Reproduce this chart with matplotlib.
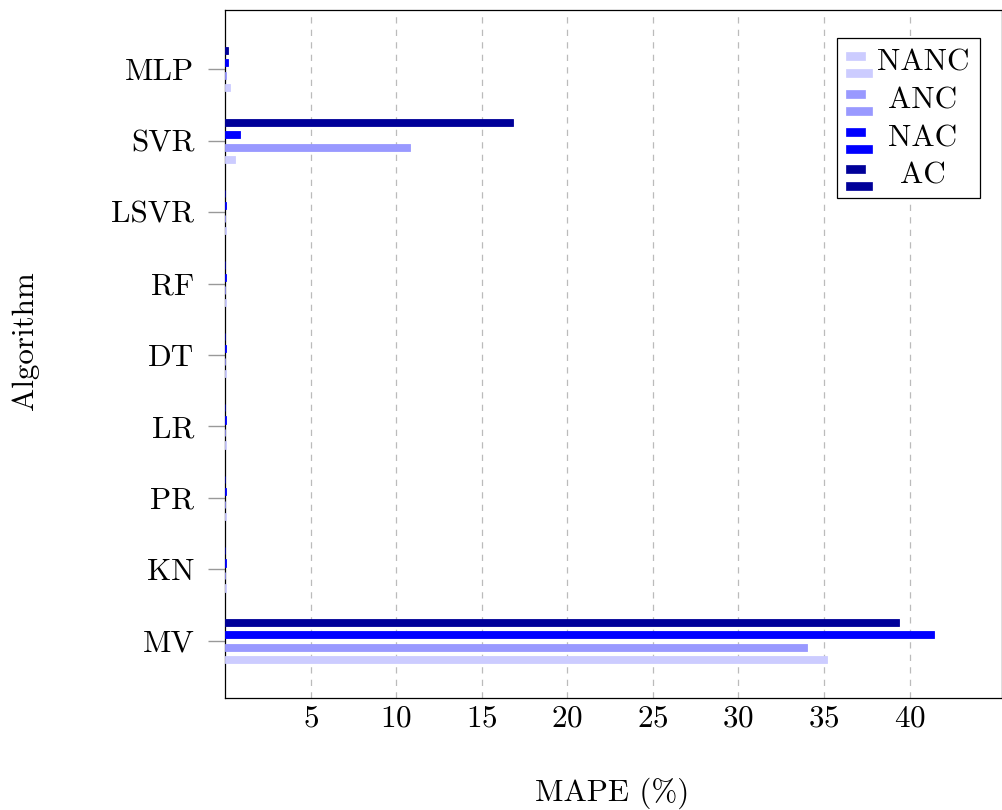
import numpy as np
import matplotlib
matplotlib.use("Agg")
import matplotlib.pyplot as plt
import matplotlib.patches as mpatches

plt.rcParams['font.family'] = 'cmr10'
plt.rcParams['mathtext.fontset'] = 'cm'
plt.rcParams['axes.formatter.use_mathtext'] = True

# algorithms, bottom to top
algorithms = ["MV", "KN", "PR", "LR", "DT", "RF", "LSVR", "SVR", "MLP"]
series = ["NANC", "ANC", "NAC", "AC"]
colors = ["#ccccff", "#9999ff", "#0000ff", "#000099"]

nanc = [35.2, 0.04, 0.04, 0.04, 0.04, 0.04, 0.04, 0.6, 0.3]
anc = [34.0, 0.03, 0.03, 0.03, 0.03, 0.03, 0.03, 10.8, 0.05]
nac = [41.4, 0.05, 0.05, 0.05, 0.05, 0.05, 0.05, 0.88, 0.2]
ac = [39.4, 0.03, 0.03, 0.03, 0.03, 0.03, 0.03, 16.85, 0.15]
values = [nanc, anc, nac, ac]

xticks = [5, 10, 15, 20, 25, 30, 35, 40]

FS = 22.4

fig = plt.figure(figsize=(10.03, 8.10), dpi=100)
ax = fig.add_axes([0.2243, 0.1383, 0.7747, 0.8494])

y = np.arange(len(algorithms))
offsets = [-0.26, -0.09, 0.09, 0.26]
bar_h = 0.1
for name, vals, col, off in zip(series, values, colors, offsets):
    ax.barh(y + off, vals, height=bar_h, color=col, edgecolor=col, lw=0.6, zorder=3)

ax.set_xlim(0, 45.4)
ax.set_ylim(-0.8, 8.83)
ax.set_xticks(xticks)
ax.set_yticks(y)
ax.set_yticklabels(algorithms)
ax.tick_params(axis='both', labelsize=FS, color='#999999')
ax.tick_params(axis='y', direction='out', length=12, width=1, pad=10)
ax.tick_params(axis='x', direction='in', length=0, pad=5)
ax.xaxis.grid(True, linestyle=(0, (5, 5)), color='#bbbbbb', lw=0.9, zorder=0)
for s in ax.spines.values():
    s.set_linewidth(0.9)

ax.set_xlabel("MAPE (%)", fontsize=FS, va='center')
ax.xaxis.set_label_coords(0.498, -0.138)
ax.set_ylabel("Algorithm", fontsize=FS, va='center')
ax.yaxis.set_label_coords(-0.257, 0.52)

# legend box drawn by hand: two stacked bars per entry, label centred
box_x0, box_x1 = 0.7877, 0.9717
box_y0, box_y1 = 0.7267, 0.9593
ax.add_patch(mpatches.Rectangle((box_x0, box_y0), box_x1 - box_x0, box_y1 - box_y0,
                                transform=ax.transAxes, facecolor='white',
                                edgecolor='black', lw=0.9, zorder=6))
row_y = 0.924
row_step = 0.0548
hx = 0.7993
for i, (name, col) in enumerate(zip(series, colors)):
    yc = row_y - i * row_step
    ax.add_patch(mpatches.Rectangle((hx, yc + 0.0030), 0.0245, 0.0116,
                                    transform=ax.transAxes, facecolor=col,
                                    edgecolor=col, lw=0.5, zorder=7))
    ax.add_patch(mpatches.Rectangle((hx, yc - 0.0218), 0.0335, 0.0116,
                                    transform=ax.transAxes, facecolor=col,
                                    edgecolor=col, lw=0.5, zorder=7))
    ax.text(0.8983, yc - 0.001, name, transform=ax.transAxes, fontsize=FS,
            ha='center', va='center', zorder=8)

fig.savefig("out.png", dpi=100)
